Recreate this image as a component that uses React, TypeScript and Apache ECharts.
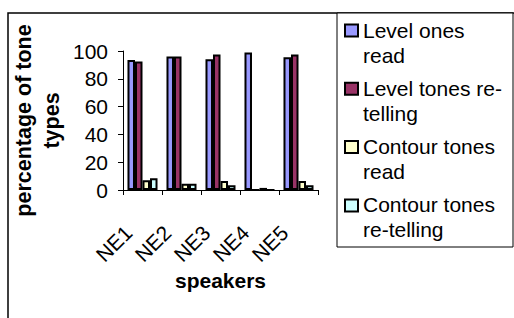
import React, { useEffect, useRef } from 'react';
import * as echarts from 'echarts';

const categories = ['NE1', 'NE2', 'NE3', 'NE4', 'NE5'];
const seriesNames = [
  'Level ones read',
  'Level tones re-telling',
  'Contour tones read',
  'Contour tones re-telling',
];
const legendLines = [
  ['Level ones', 'read'],
  ['Level tones re-', 'telling'],
  ['Contour tones', 'read'],
  ['Contour tones', 're-telling'],
];
const levelRead = [93.5, 96, 94, 99, 95.5];
const levelRetell = [92.5, 96, 97.5, 0, 97.5];
const contourRead = [7, 4.5, 6.5, 1.5, 6.5];
const contourRetell = [8.5, 4.5, 3.5, 0, 3.5];
const colors = ['#9999FF', '#993366', '#FFFFCC', '#CCFFFF'];
const yAxisTitle = 'percentage of tone\ntypes';
const xAxisTitle = 'speakers';

const FONT = '"Liberation Sans", Arial, sans-serif';

export default function App() {
  const ref = useRef<HTMLDivElement>(null);
  useEffect(() => {
    if (!ref.current) return;
    const chart = echarts.init(ref.current, undefined, { renderer: 'svg' });
    const values = [levelRead, levelRetell, contourRead, contourRetell];
    const legendGraphics: any[] = [];
    seriesNames.forEach((name, i) => {
      legendGraphics.push({
        type: 'rect',
        shape: { x: 345, y: 24.5 + i * 58.3, width: 13, height: 12 },
        style: { fill: colors[i], stroke: '#000', lineWidth: 2 },
        z: 10,
      });
      legendGraphics.push({
        type: 'text',
        x: 363,
        y: 17.5 + i * 58.3,
        style: {
          text: legendLines[i].join('\n'),
          fontSize: 21,
          fontFamily: FONT,
          lineHeight: 25,
          fill: '#000',
          verticalAlign: 'top',
          align: 'left',
        },
        z: 10,
      });
    });
    chart.setOption({
      animation: false,
      backgroundColor: '#fff',
      textStyle: { fontFamily: FONT },
      grid: { left: 123, top: 51, width: 195, height: 139, containLabel: false },
      xAxis: {
        type: 'category',
        data: categories,
        name: xAxisTitle,
        nameLocation: 'middle',
        nameGap: 80,
        nameMoveOverlap: false,
        nameTextStyle: { fontSize: 21, fontWeight: 'bold', color: '#000', fontFamily: FONT, verticalAlign: 'top' },
        axisLine: { lineStyle: { color: '#000', width: 1 } },
        axisTick: { show: true, length: 5, inside: false, lineStyle: { color: '#000' } },
        axisLabel: {
          rotate: 45,
          interval: 0,
          fontSize: 21,
          color: '#000',
          fontFamily: FONT,
          margin: 25,
          padding: [0, 20, 0, 0],
        },
        splitLine: { show: false },
      },
      yAxis: {
        type: 'value',
        min: 0,
        max: 100,
        interval: 20,
        name: yAxisTitle,
        nameLocation: 'middle',
        nameGap: 57,
        nameMoveOverlap: false,
        nameTextStyle: { fontSize: 21.5, fontWeight: 'bold', color: '#000', fontFamily: FONT, lineHeight: 28, align: 'center' },
        axisLine: { show: true, lineStyle: { color: '#000', width: 1 } },
        axisTick: { show: true, length: 5, lineStyle: { color: '#000' } },
        axisLabel: { fontSize: 21, color: '#000', fontFamily: FONT, margin: 15 },
        splitLine: { show: false },
      },
      series: seriesNames.map((name, i) => ({
        name,
        type: 'bar',
        data: values[i],
        barGap: '0%',
        barCategoryGap: '23%',
        itemStyle: { color: colors[i], borderColor: '#000', borderWidth: 2 },
      })),
      graphic: [
        {
          type: 'rect',
          shape: { x: 8, y: 13, width: 1000, height: 1000 },
          style: { fill: 'none', stroke: '#000', lineWidth: 1.5 },
          z: 5,
        },
        {
          type: 'rect',
          shape: { x: 337, y: 13, width: 176, height: 234 },
          style: { fill: '#fff', stroke: '#000', lineWidth: 1 },
          z: 6,
        },
        ...legendGraphics,
      ],
    });
    return () => chart.dispose();
  }, []);
  return <div ref={ref} style={{ position: 'fixed', left: 0, top: 0, width: 514, height: 318 }} />;
}
